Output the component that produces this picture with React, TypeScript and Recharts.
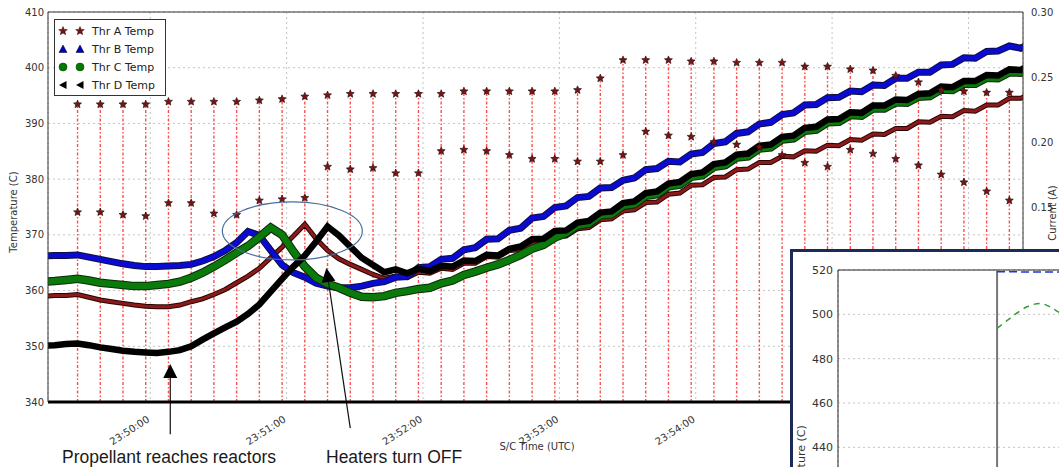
import React from 'react'
import {
  ComposedChart, LineChart, Line, Scatter, XAxis, YAxis, CartesianGrid, ReferenceLine, ReferenceDot,
} from 'recharts'

// samples every 5 s, t in seconds from 23:50:00 (first sample 23:49:13)
const T_START = -47
const T_STEP = 5

const thrA = [
  359.0, 359.1, 359.1, 359.3, 358.8, 358.3, 358.0, 357.7, 357.4, 357.2,
  357.1, 357.1, 357.4, 358.0, 358.5, 359.3, 360.2, 361.4, 362.6, 364.0,
  365.9, 367.8, 369.8, 371.9, 369.3, 367.2, 365.7, 364.7, 363.8, 362.9,
  362.2, 362.6, 362.3, 363.3, 363.1, 364.0, 363.8, 364.9, 364.9, 366.1,
  366.0, 367.2, 367.3, 368.5, 368.5, 369.7, 369.8, 371.1, 371.3, 372.7,
  372.9, 374.3, 374.5, 375.8, 375.9, 377.3, 377.5, 378.9, 379.0, 380.3,
  380.4, 381.7, 381.8, 383.0, 383.0, 384.1, 384.0, 385.1, 385.0, 386.1,
  386.0, 387.1, 387.0, 388.1, 388.0, 389.1, 389.1, 390.3, 390.2, 391.3,
  391.2, 392.3, 392.2, 393.3, 393.3, 394.5, 394.5, 395.6,
]
const thrB = [
  366.2, 366.3, 366.3, 366.4, 366.0, 365.6, 365.2, 364.8, 364.5, 364.3,
  364.3, 364.4, 364.5, 364.7, 365.3, 366.1, 367.2, 368.6, 370.6, 369.9,
  367.2, 364.6, 363.2, 362.4, 361.3, 360.8, 360.5, 360.5, 360.8, 361.3,
  361.6, 362.4, 362.5, 364.1, 364.3, 365.6, 365.8, 367.3, 367.7, 369.2,
  369.3, 370.8, 371.2, 373.0, 373.3, 374.9, 375.2, 376.7, 376.9, 378.4,
  378.5, 379.8, 380.2, 381.7, 381.9, 383.2, 383.1, 384.5, 384.8, 386.4,
  386.7, 388.2, 388.5, 389.9, 390.2, 391.6, 391.9, 393.3, 393.4, 394.6,
  394.7, 395.8, 395.7, 396.9, 396.8, 398.1, 398.1, 399.2, 399.2, 400.5,
  400.6, 401.8, 401.7, 402.9, 403.0, 403.9, 403.5, 404.5,
]
const thrC = [
  361.6, 361.7, 361.9, 362.1, 361.8, 361.4, 361.2, 361.0, 360.8, 360.8,
  361.0, 361.2, 361.6, 362.3, 363.2, 364.3, 365.5, 366.8, 368.0, 369.6,
  371.3, 370.0, 367.0, 364.3, 362.3, 361.2, 360.5, 359.6, 358.9, 358.8,
  359.0, 359.6, 359.9, 360.3, 360.5, 361.3, 361.8, 362.8, 363.4, 364.1,
  364.7, 365.5, 366.4, 367.5, 368.2, 369.5, 370.3, 371.7, 372.0, 373.5,
  373.7, 375.2, 375.5, 377.0, 377.3, 378.7, 379.0, 380.4, 380.7, 382.2,
  382.5, 383.9, 384.1, 385.5, 385.7, 387.1, 387.3, 388.7, 388.9, 390.2,
  390.3, 391.5, 391.4, 392.7, 392.7, 393.8, 393.7, 394.8, 394.9, 396.1,
  396.0, 397.1, 397.1, 398.2, 398.1, 399.2, 399.1, 400.2,
]
const thrD = [
  350.1, 350.2, 350.4, 350.5, 350.2, 349.8, 349.5, 349.2, 349.0, 348.9,
  348.8, 349.0, 349.3, 350.0, 351.2, 352.3, 353.4, 354.4, 355.8, 357.5,
  359.8, 362.1, 364.3, 366.3, 368.8, 371.5, 369.9, 367.9, 365.9, 364.6,
  363.3, 363.8, 363.1, 363.9, 363.5, 364.4, 364.3, 365.4, 365.3, 366.4,
  366.3, 367.5, 367.9, 369.2, 369.3, 370.7, 370.8, 372.2, 372.5, 374.0,
  374.2, 375.7, 376.0, 377.5, 377.8, 379.2, 379.5, 380.9, 381.2, 382.7,
  383.0, 384.4, 384.6, 386.0, 386.2, 387.6, 387.8, 389.2, 389.4, 390.7,
  390.8, 392.0, 391.9, 393.2, 393.2, 394.3, 394.2, 395.3, 395.4, 396.6,
  396.5, 397.6, 397.6, 398.7, 398.6, 399.7, 399.6, 400.7,
]

// heater current pulses, one every 10 s starting at 23:49:28
const PULSE_START = -32
const PULSE_STEP = 10
const pulsePeak = [
  0.229, 0.229, 0.229, 0.229, 0.231, 0.231, 0.231, 0.231, 0.232, 0.233,
  0.235, 0.236, 0.237, 0.237, 0.237, 0.237, 0.237, 0.239, 0.239, 0.239,
  0.239, 0.239, 0.240, 0.249, 0.263, 0.263, 0.263, 0.262, 0.262, 0.261,
  0.261, 0.261, 0.258, 0.258, 0.256, 0.255, 0.251, 0.246, 0.240, 0.239,
  0.238, 0.238,
]
const pulseLow = [
  0.146, 0.146, 0.144, 0.143, 0.153, 0.153, 0.145, 0.144, 0.155, 0.156,
  0.157, 0.181, 0.179, 0.180, 0.176, 0.176, 0.193, 0.194, 0.193, 0.190,
  0.187, 0.187, 0.185, 0.185, 0.190, 0.208, 0.205, 0.204, 0.200, 0.198,
  0.196, 0.190, 0.184, 0.181, 0.194, 0.191, 0.187, 0.182, 0.175, 0.169,
  0.162, 0.155,
]

const TIME_TICKS = [0, 60, 120, 180, 240, 300, 360]
const TIME_LABELS = ['23:50:00', '23:51:00', '23:52:00', '23:53:00', '23:54:00', '23:55:00', '23:56:00']
const TEMP_TICKS = [340, 350, 360, 370, 380, 390, 400, 410]
const CURRENT_TICKS = [0, 0.05, 0.1, 0.15, 0.2, 0.25, 0.3]

// inset (second plot on the slide)
const insetGreenX = [9.23, 10.03, 11.08, 11.89, 12.5, 13.0, 13.6]
const insetGreenY = [493.7, 498.2, 503.4, 504.9, 503.4, 501.2, 498.5]
const insetBlueX = [9.23, 15.2]
const insetBlueY = [519.2, 519.0]
const INSET_EVENT_X = 9.23
const INSET_X_TICKS = [0, 1, 2, 3, 4, 5, 6, 7, 8, 9, 10, 11, 12, 13, 14, 15]
const INSET_Y_TICKS = [340, 360, 380, 400, 420, 440, 460, 480, 500, 520]

const FONT = 'DejaVu Sans, sans-serif'

const rows = thrA.map((a, i) => ({ t: T_START + i * T_STEP, a, b: thrB[i], c: thrC[i], d: thrD[i] }))

const pulseRows: { t: number; c: number | null }[] = []
pulsePeak.forEach((p, i) => {
  const t = PULSE_START + i * PULSE_STEP
  pulseRows.push({ t, c: 0 }, { t, c: p }, { t, c: null })
})
const starRows = [
  ...pulsePeak.map((c, i) => ({ t: PULSE_START + i * PULSE_STEP, c })),
  ...pulseLow.map((c, i) => ({ t: PULSE_START + i * PULSE_STEP, c })),
]

const insetGreen = insetGreenX.map((x, i) => ({ x, v: insetGreenY[i] }))
const insetBlue = insetBlueX.map((x, i) => ({ x, v: insetBlueY[i] }))

function starPoints(cx: number, cy: number, R: number, r: number) {
  const pts: string[] = []
  for (let i = 0; i < 10; i++) {
    const ang = -Math.PI / 2 + (i * Math.PI) / 5
    const rad = i % 2 === 0 ? R : r
    pts.push(`${cx + rad * Math.cos(ang)},${cy + rad * Math.sin(ang)}`)
  }
  return pts.join(' ')
}

const StarShape = (props: any) => {
  const { cx, cy } = props
  if (cx == null || cy == null) return <g />
  return <polygon points={starPoints(cx, cy, 4.2, 1.9)} fill="#7a1414" stroke="#1e0606" strokeWidth={0.6} />
}

const TimeTick = (props: any) => {
  const { x, y, payload } = props
  const label = TIME_LABELS[TIME_TICKS.indexOf(payload.value)] ?? ''
  const ty = y + 11
  return (
    <text x={x} y={ty} transform={`rotate(-33 ${x} ${ty})`} textAnchor="end"
      fontSize={10} fill="#333" fontFamily={FONT}>
      {label}
    </text>
  )
}

// arrow head with its tip on the reference point, dx/dy = pointing direction
const arrowHead = (dx: number, dy: number) => (props: any) => {
  const { cx, cy } = props
  const len = Math.hypot(dx, dy)
  const ux = dx / len, uy = dy / len
  const bx = cx - 14 * ux, by = cy - 14 * uy
  const nx = -uy, ny = ux
  const pts = `${cx},${cy} ${bx + 7 * nx},${by + 7 * ny} ${bx - 7 * nx},${by - 7 * ny}`
  return <polygon points={pts} fill="#000" />
}

const EllipseShape = (props: any) => (
  <ellipse cx={props.cx} cy={props.cy} rx={70} ry={29} fill="none" stroke="#4a6f9f" strokeWidth={1.2} />
)

const LegendMarker = ({ kind }: { kind: string }) => {
  if (kind === 'star') return <polygon points={starPoints(5, 5, 4.5, 2)} fill="#7a1414" stroke="#1e0606" strokeWidth={0.5} />
  if (kind === 'tri') return <polygon points="5,1 9,8.5 1,8.5" fill="#0000cc" stroke="#000" strokeWidth={0.5} />
  if (kind === 'circle') return <circle cx={5} cy={5} r={4} fill="#007a00" stroke="#003300" strokeWidth={0.5} />
  return <polygon points="1,5 8.5,1 8.5,9" fill="#000" />
}

const LEGEND = [
  { name: 'Thr A Temp', kind: 'star' },
  { name: 'Thr B Temp', kind: 'tri' },
  { name: 'Thr C Temp', kind: 'circle' },
  { name: 'Thr D Temp', kind: 'ltri' },
]

const rotated = (text: string, cx: number, cy: number, deg: number, size: number) => (
  <div style={{
    position: 'absolute', left: cx, top: cy, transform: `translate(-50%, -50%) rotate(${deg}deg)`,
    whiteSpace: 'nowrap', fontFamily: FONT, fontSize: size, color: '#333', lineHeight: 1,
  }}>
    {text}
  </div>
)

export default function App() {
  return (
    <div style={{ position: 'relative', width: 1059, height: 467, overflow: 'hidden', background: '#fff' }}>
      <style>{'body{margin:0}'}</style>

      <ComposedChart width={1059} height={467} data={rows} margin={{ top: 12, right: 0, bottom: 25, left: 0 }}>
        <CartesianGrid yAxisId="left" stroke="#c4c4c4" strokeDasharray="2 3" />
        <XAxis dataKey="t" type="number" domain={[-45, 384]} allowDataOverflow ticks={TIME_TICKS}
          interval={0} tick={<TimeTick />} tickLine={false} height={40}
          axisLine={{ stroke: '#000', strokeWidth: 3 }} />
        <YAxis yAxisId="left" domain={[340, 410]} ticks={TEMP_TICKS} allowDataOverflow width={48}
          tickLine={false} tickSize={4} tickMargin={0} axisLine={{ stroke: '#333' }}
          tick={{ fontSize: 10, fill: '#333', fontFamily: FONT }} />
        <YAxis yAxisId="right" orientation="right" domain={[0, 0.3]} ticks={CURRENT_TICKS} allowDataOverflow
          width={36} tickLine={false} axisLine={{ stroke: '#333' }}
          tickFormatter={(v: number) => v.toFixed(2)}
          tick={{ fontSize: 10, fill: '#333', fontFamily: FONT }} />
        <ReferenceLine yAxisId="left" y={410} stroke="#333" />

        <Line yAxisId="right" data={pulseRows} dataKey="c" stroke="#ff2020" strokeOpacity={0.8}
          strokeWidth={1.4} strokeDasharray="3 2 1.5 2" dot={false} isAnimationActive={false} />
        <Scatter yAxisId="right" data={starRows} dataKey="c" shape={StarShape} isAnimationActive={false} />

        <Line yAxisId="left" dataKey="a" stroke="#2a0505" strokeWidth={5} dot={false} isAnimationActive={false} />
        <Line yAxisId="left" dataKey="a" stroke="#8b1a1a" strokeWidth={3} dot={false} isAnimationActive={false} />
        <Line yAxisId="left" dataKey="b" stroke="#101040" strokeWidth={7} dot={false} isAnimationActive={false} />
        <Line yAxisId="left" dataKey="b" stroke="#0a0ad2" strokeWidth={5} dot={false} isAnimationActive={false} />
        <Line yAxisId="left" dataKey="c" stroke="#0b2a0b" strokeWidth={8.5} dot={false} isAnimationActive={false} />
        <Line yAxisId="left" dataKey="c" stroke="#0a7a0a" strokeWidth={6.5} dot={false} isAnimationActive={false} />
        <Line yAxisId="left" dataKey="d" stroke="#000" strokeWidth={6.5} dot={false} isAnimationActive={false} />

        <ReferenceDot yAxisId="left" x={62.5} y={370.7} shape={EllipseShape} ifOverflow="visible" />
        <ReferenceLine yAxisId="left" ifOverflow="visible" stroke="#111" strokeWidth={1.2}
          segment={[{ x: 8.8, y: 334.2 }, { x: 8.8, y: 345 }]} />
        <ReferenceDot yAxisId="left" x={8.8} y={346.8} shape={arrowHead(0, -1)} ifOverflow="visible" />
        <ReferenceLine yAxisId="left" ifOverflow="visible" stroke="#111" strokeWidth={1.2}
          segment={[{ x: 88.0, y: 335.3 }, { x: 78.4, y: 361.6 }]} />
        <ReferenceDot yAxisId="left" x={77.5} y={364.05} shape={arrowHead(-0.148, -0.989)} ifOverflow="visible" />
      </ComposedChart>

      <div style={{
        position: 'absolute', left: 54, top: 19, width: 110, height: 75, border: '1.5px solid #333',
        background: '#fff', fontFamily: FONT, fontSize: 11, color: '#222',
      }}>
        {LEGEND.map((item, i) => (
          <div key={item.name} style={{ position: 'absolute', left: 0, top: 4 + i * 18, height: 14, display: 'flex', alignItems: 'center' }}>
            <svg width={10} height={10} style={{ marginLeft: 3 }}><LegendMarker kind={item.kind} /></svg>
            <svg width={10} height={10} style={{ marginLeft: 7 }}><LegendMarker kind={item.kind} /></svg>
            <span style={{ marginLeft: 7 }}>{item.name}</span>
          </div>
        ))}
      </div>

      {rotated('Temperature (C)', 14, 212, -90, 10)}
      {rotated('Current (A)', 1053, 213, -90, 10)}
      {rotated('S/C Time (UTC)', 537, 447, 0, 10)}

      <div style={{ position: 'absolute', left: 62, top: 447, fontFamily: 'Liberation Sans, Arial, sans-serif', fontSize: 17.5, lineHeight: '20px', color: '#1a1a1a', whiteSpace: 'nowrap' }}>
        Propellant reaches reactors
      </div>
      <div style={{ position: 'absolute', left: 326, top: 447, fontFamily: 'Liberation Sans, Arial, sans-serif', fontSize: 17.5, lineHeight: '20px', color: '#1a1a1a', whiteSpace: 'nowrap' }}>
        Heaters turn OFF
      </div>

      <div style={{
        position: 'absolute', left: 790, top: 249, width: 269, height: 218, borderLeft: '3px solid #1c2a57',
        borderTop: '3px solid #1c2a57', background: '#fff', overflow: 'hidden',
      }}>
        <LineChart width={300} height={430} margin={{ top: 18, right: 0, bottom: 0, left: 0 }}>
          <CartesianGrid stroke="#c4c4c4" strokeDasharray="2 3" />
          <XAxis dataKey="x" type="number" domain={[-0.62, 15.17]} allowDataOverflow ticks={INSET_X_TICKS}
            interval={0} tick={false} tickLine={false} height={13} axisLine={{ stroke: '#222' }} />
          <YAxis domain={[340, 520]} ticks={INSET_Y_TICKS} allowDataOverflow width={45}
            tickLine={false} tickSize={3} tickMargin={2} axisLine={{ stroke: '#222' }}
            tick={{ fontSize: 11, fill: '#333', fontFamily: FONT }} />
          <ReferenceLine y={520} stroke="#222" />
          <ReferenceLine x={INSET_EVENT_X} stroke="#777" strokeWidth={2} />
          <Line data={insetBlue} dataKey="v" stroke="#2233dd" strokeWidth={1.5} strokeDasharray="8 4"
            dot={false} isAnimationActive={false} />
          <Line data={insetGreen} dataKey="v" stroke="#3a9a3a" strokeWidth={1.5} strokeDasharray="6 5"
            dot={false} isAnimationActive={false} type="monotone" />
        </LineChart>
        {rotated('Temperature (C)', 8, 218, -90, 11)}
      </div>
    </div>
  )
}
